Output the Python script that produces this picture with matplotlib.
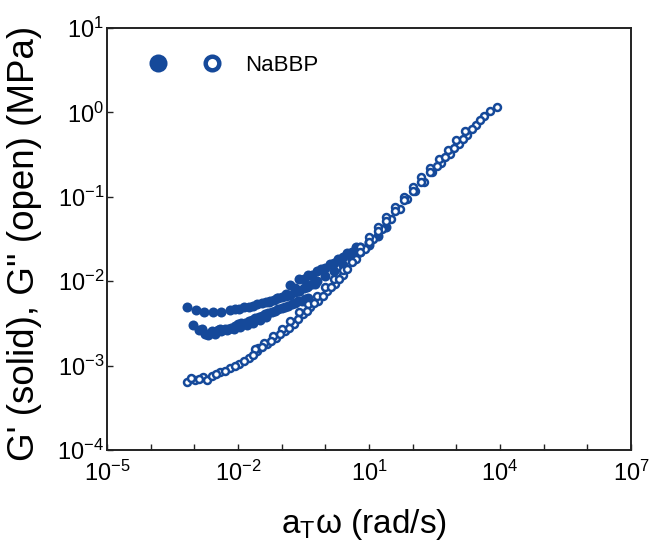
#!/usr/bin/env python3

import math

import matplotlib

matplotlib.use("Agg")

import matplotlib.pyplot as plt
from matplotlib.lines import Line2D
from matplotlib.legend_handler import HandlerTuple
from matplotlib.ticker import FixedLocator, FuncFormatter, NullLocator

BLUE = "#15499a"

# G' (storage modulus), several overlapping segments
g1_seg_a_w = [6.76e-4, 1.10e-3, 1.70e-3, 2.63e-3, 4.07e-3, 6.61e-3, 1.07e-2, 1.74e-2,
              2.75e-2, 4.37e-2, 6.61e-2, 0.102, 0.155, 0.245, 0.372, 0.575]
g1_seg_a = [4.90e-3, 4.57e-3, 4.37e-3, 4.37e-3, 4.37e-3, 4.57e-3, 4.68e-3, 5.01e-3,
            5.37e-3, 5.62e-3, 6.03e-3, 6.46e-3, 6.92e-3, 7.59e-3, 8.51e-3, 9.33e-3]

g1_seg_b_w = [9.55e-4, 1.48e-3, 1.74e-3, 2.51e-3, 2.95e-3, 3.89e-3, 6.03e-3, 8.51e-3,
              1.20e-2, 1.74e-2, 2.45e-2, 3.47e-2, 4.90e-2, 7.08e-2, 0.100, 0.141,
              0.200, 0.288, 0.407]
g1_seg_b = [3.02e-3, 2.75e-3, 2.34e-3, 2.57e-3, 2.40e-3, 2.69e-3, 2.75e-3, 2.95e-3,
            3.16e-3, 3.39e-3, 3.63e-3, 3.89e-3, 4.17e-3, 4.47e-3, 4.79e-3, 5.13e-3,
            5.50e-3, 5.89e-3, 6.31e-3]

g1_seg_c_w = [2.00e-3, 2.82e-3, 3.98e-3, 5.62e-3, 7.94e-3, 1.12e-2, 1.58e-2, 2.24e-2,
              3.16e-2, 4.47e-2]
g1_seg_c = [2.40e-3, 2.51e-3, 2.57e-3, 2.63e-3, 2.75e-3, 2.88e-3, 3.02e-3, 3.24e-3,
            3.47e-3, 3.80e-3]

g1_seg_d_w = [5.01e-2, 7.94e-2, 0.126, 0.200, 0.316, 0.501, 0.794, 1.26, 2.00, 3.16, 5.01]
g1_seg_d = [5.62e-3, 6.31e-3, 7.08e-3, 8.32e-3, 1.05e-2, 1.20e-2, 1.38e-2, 1.58e-2,
            1.82e-2, 2.14e-2, 2.51e-2]

g1_seg_e_w = [0.251, 0.398, 0.631, 1.00, 1.585, 2.512, 3.981, 6.31, 10.0, 15.85, 25.12]
g1_seg_e = [7.59e-3, 8.71e-3, 1.00e-2, 1.15e-2, 1.32e-2, 1.55e-2, 1.82e-2, 2.19e-2,
            2.69e-2, 3.39e-2, 4.37e-2]

g1_seg_f_w = [8.51e-3, 1.35e-2, 2.19e-2, 3.47e-2, 5.37e-2, 8.32e-2, 0.126, 0.200,
              0.316, 0.501]
g1_seg_f = [4.68e-3, 4.90e-3, 5.13e-3, 5.50e-3, 5.89e-3, 6.31e-3, 6.76e-3, 7.41e-3,
            8.32e-3, 9.33e-3]

g1_seg_g_w = [1.26e-3, 2.09e-3, 3.39e-3, 5.01e-3, 7.08e-3, 1.00e-2, 1.45e-2, 2.04e-2,
              2.95e-2, 4.17e-2, 5.89e-2, 8.32e-2, 0.120, 0.170, 0.240, 0.347]
g1_seg_g = [2.63e-3, 2.29e-3, 2.63e-3, 2.69e-3, 2.82e-3, 3.09e-3, 3.24e-3, 3.47e-3,
            3.80e-3, 4.07e-3, 4.37e-3, 4.68e-3, 5.01e-3, 5.37e-3, 5.75e-3, 6.17e-3]

g1_seg_h_w = [0.158, 0.251, 0.398, 0.631, 1.00, 1.585, 2.512, 3.981, 6.31, 10.0]
g1_seg_h = [8.91e-3, 1.05e-2, 1.17e-2, 1.32e-2, 1.45e-2, 1.66e-2, 1.91e-2, 2.19e-2,
            2.51e-2, 2.95e-2]

# G'' (loss modulus)
g2_seg_a_w = [6.92e-4, 1.02e-3, 1.58e-3, 1.91e-3, 2.51e-3, 3.89e-3, 6.61e-3, 1.07e-2,
              1.74e-2, 2.69e-2, 2.88e-2, 4.57e-2, 7.41e-2, 0.120, 0.191, 0.302, 0.457,
              0.692, 1.07, 1.66, 2.57]
g2_seg_a = [6.46e-4, 6.76e-4, 7.24e-4, 6.76e-4, 7.59e-4, 8.32e-4, 9.33e-4, 1.05e-3,
            1.23e-3, 1.48e-3, 1.62e-3, 1.78e-3, 2.14e-3, 2.57e-3, 3.09e-3, 4.07e-3,
            5.01e-3, 5.89e-3, 7.76e-3, 9.33e-3, 1.17e-2]

g2_seg_b_w = [2.51e-2, 3.98e-2, 6.31e-2, 0.100, 0.158, 0.251, 0.398, 0.631, 1.00, 1.585,
              2.512, 3.981, 6.31, 10.0]
g2_seg_b = [1.58e-3, 1.86e-3, 2.24e-3, 2.75e-3, 3.39e-3, 4.27e-3, 5.37e-3, 6.76e-3,
            8.51e-3, 1.07e-2, 1.35e-2, 1.74e-2, 2.24e-2, 2.82e-2]

g2_seg_c_w = [3.16, 5.01, 7.94, 12.6, 20.0, 31.6, 50.1, 74.1, 112, 178, 282, 447, 708,
              1122, 1778, 2818, 4365, 5754, 8710]
g2_seg_c = [1.41e-2, 1.82e-2, 2.40e-2, 3.16e-2, 4.17e-2, 5.50e-2, 7.24e-2, 9.33e-2,
            0.117, 0.151, 0.195, 0.251, 0.324, 0.417, 0.537, 0.708, 0.912, 1.047, 1.175]

g2_seg_d_w = [6.31, 10.0, 15.85, 25.1, 39.8, 63.1, 100, 158, 251, 398, 631, 1000, 1585]
g2_seg_d = [2.51e-2, 3.31e-2, 4.37e-2, 5.75e-2, 7.59e-2, 0.100, 0.132, 0.170, 0.219,
            0.282, 0.363, 0.468, 0.603]

g2_seg_e_w = [355, 562, 891, 1413, 2239, 3548]
g2_seg_e = [0.229, 0.295, 0.380, 0.490, 0.631, 0.813]

g2_seg_f_w = [8.32e-4, 1.26e-3, 3.16e-3, 5.01e-3, 8.32e-3, 1.35e-2, 2.19e-2, 3.55e-2,
              5.75e-2, 9.33e-2, 0.151, 0.240, 0.372, 0.562, 0.871, 1.318, 2.042]
g2_seg_f = [7.08e-4, 6.92e-4, 7.94e-4, 8.71e-4, 1.00e-3, 1.12e-3, 1.35e-3, 1.66e-3,
            1.95e-3, 2.34e-3, 2.82e-3, 3.55e-3, 4.47e-3, 5.50e-3, 6.76e-3, 8.51e-3,
            1.05e-2]

g2_seg_g_w = [3.98, 6.31, 10.0, 15.85, 25.1, 39.8, 63.1, 100, 158, 251]
g2_seg_g = [1.70e-2, 2.24e-2, 2.95e-2, 3.89e-2, 5.13e-2, 6.76e-2, 9.12e-2, 0.117,
            0.151, 0.195]

storage_segments = [
    (g1_seg_a_w, g1_seg_a),
    (g1_seg_b_w, g1_seg_b),
    (g1_seg_c_w, g1_seg_c),
    (g1_seg_d_w, g1_seg_d),
    (g1_seg_e_w, g1_seg_e),
    (g1_seg_f_w, g1_seg_f),
    (g1_seg_g_w, g1_seg_g),
    (g1_seg_h_w, g1_seg_h),
]
loss_segments = [
    (g2_seg_a_w, g2_seg_a),
    (g2_seg_b_w, g2_seg_b),
    (g2_seg_c_w, g2_seg_c),
    (g2_seg_d_w, g2_seg_d),
    (g2_seg_e_w, g2_seg_e),
    (g2_seg_f_w, g2_seg_f),
    (g2_seg_g_w, g2_seg_g),
]

x_exponents = list(range(-5, 8))
y_exponents = list(range(-4, 2))
sample_name = "NaBBP"


def power_label(value: float, _pos=None) -> str:
    return r"$\mathregular{10^{%d}}$" % round(math.log10(value))


def sparse_power_label(value: float, _pos=None) -> str:
    exponent = round(math.log10(value))
    if (exponent + 5) % 3 != 0:
        return ""
    return power_label(value)


def main() -> None:
    plt.rcParams["font.family"] = ["Liberation Sans", "DejaVu Sans"]
    plt.rcParams["mathtext.fontset"] = "custom"
    plt.rcParams["mathtext.rm"] = "Liberation Sans"
    plt.rcParams["mathtext.it"] = "Liberation Sans:italic"
    plt.rcParams["axes.unicode_minus"] = False

    fig = plt.figure(figsize=(6.53, 5.45), dpi=100)
    ax = fig.add_axes([0.1639, 0.1743, 0.8024, 0.7743])

    for w, g in storage_segments:
        ax.plot(w, g, linestyle="none", marker="o", markersize=7.2,
                markerfacecolor=BLUE, markeredgewidth=0, zorder=2)

    for w, g in loss_segments:
        ax.plot(w, g, linestyle="none", marker="o", markersize=5.0,
                markerfacecolor="white", markeredgecolor=BLUE,
                markeredgewidth=1.8, zorder=3)

    ax.set_xscale("log")
    ax.set_yscale("log")
    ax.set_xlim(1e-5, 1e7)
    ax.set_ylim(1e-4, 1e1)

    ax.xaxis.set_major_locator(FixedLocator([10.0 ** e for e in x_exponents]))
    ax.xaxis.set_major_formatter(FuncFormatter(sparse_power_label))
    ax.yaxis.set_major_locator(FixedLocator([10.0 ** e for e in y_exponents]))
    ax.yaxis.set_major_formatter(FuncFormatter(power_label))
    ax.xaxis.set_minor_locator(NullLocator())
    ax.yaxis.set_minor_locator(NullLocator())

    ax.tick_params(axis="both", direction="in", length=4, width=1,
                   labelsize=17, colors="#222222", labelcolor="black")
    ax.tick_params(axis="x", pad=8)
    ax.tick_params(axis="y", pad=2)
    for spine in ax.spines.values():
        spine.set_linewidth(1.4)
        spine.set_color("#222222")

    ax.set_xlabel(r"a$_\mathregular{T}$ω (rad/s)", fontsize=24)
    ax.set_ylabel("G' (solid), G'' (open) (MPa)", fontsize=26.5)
    ax.xaxis.set_label_coords(0.49, -0.135)
    ax.yaxis.set_label_coords(-0.125, 0.49)

    filled = Line2D([], [], linestyle="none", marker="o", markersize=13,
                    markerfacecolor=BLUE, markeredgewidth=0)
    hollow = Line2D([], [], linestyle="none", marker="o", markersize=9.8,
                    markerfacecolor="white", markeredgecolor=BLUE,
                    markeredgewidth=3.2)
    ax.legend(
        handles=[(filled, hollow)],
        labels=[sample_name],
        handler_map={tuple: HandlerTuple(ndivide=None, pad=0.86)},
        loc="center left",
        bbox_to_anchor=(0.064, 0.912),
        frameon=False,
        fontsize=16,
        handlelength=4,
        handletextpad=0.7,
        borderpad=0,
        borderaxespad=0,
    )

    fig.savefig("out.png", dpi=100)
    plt.close(fig)


if __name__ == "__main__":
    main()
